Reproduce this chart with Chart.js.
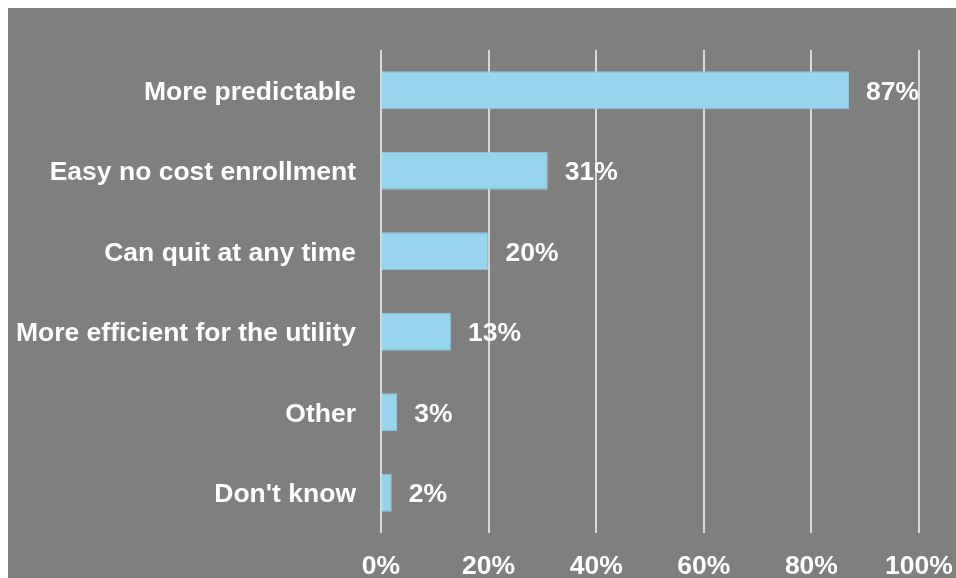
<!DOCTYPE html>
<html>
<head>
<meta charset="utf-8">
<script src="https://cdn.jsdelivr.net/npm/chart.js@4"></script>
<style>
	html, body { margin: 0; padding: 0; background: #fff; }
	.chart-box {
		position: absolute;
		left: 8px;
		top: 8px;
		width: 948px;
		height: 570px;
		background: #7f7f7f;
	}
</style>
</head>
<body>
<div class="chart-box">
	<canvas id="reasons-chart" width="948" height="570"></canvas>
</div>
<script>
"use strict";

const categories = [
	'More predictable',
	'Easy no cost enrollment',
	'Can quit at any time',
	'More efficient for the utility',
	'Other',
	"Don't know"
];
const shares = [87, 31, 20, 13, 3, 2];
const tickValues = [0, 20, 40, 60, 80, 100];

const fontFamily = '"Liberation Sans", Arial, Helvetica, sans-serif';
const labelFont = { family: fontFamily, size: 26.5, weight: 'bold' };

// value labels to the right of each bar
const barValueLabels = {
	id: 'barValueLabels',
	afterDatasetsDraw(chart) {
		const ctx = chart.ctx;
		const meta = chart.getDatasetMeta(0);
		ctx.save();
		ctx.fillStyle = '#ffffff';
		ctx.font = 'bold 26.5px ' + fontFamily;
		ctx.textAlign = 'left';
		ctx.textBaseline = 'middle';
		meta.data.forEach((bar, i) => {
			ctx.fillText(shares[i] + '%', bar.x + 17, bar.y + 2);
		});
		ctx.restore();
	}
};

function eventHandler() {
	const canvas = document.getElementById('reasons-chart');

	new Chart(canvas, {
		type: 'bar',
		data: {
			labels: categories,
			datasets: [{
				data: shares,
				backgroundColor: '#97d5ee',
				borderColor: '#8ccbe4',
				borderWidth: 1,
				barPercentage: 0.47,
				categoryPercentage: 1
			}]
		},
		options: {
			indexAxis: 'y',
			responsive: false,
			animation: false,
			layout: {
				padding: { top: 42, right: 37, left: 0, bottom: 0 }
			},
			plugins: {
				legend: { display: false },
				tooltip: { enabled: false }
			},
			scales: {
				x: {
					min: 0,
					max: 100,
					afterBuildTicks(scale) {
						scale.ticks = tickValues.map(v => ({ value: v }));
					},
					afterFit(scale) {
						scale.height = 45;
						scale.paddingLeft = 0;
						scale.paddingRight = 0;
					},
					grid: {
						color: '#d9d9d9',
						lineWidth: 2,
						drawTicks: false
					},
					border: { display: false },
					ticks: {
						color: '#ffffff',
						font: labelFont,
						padding: 18,
						callback: (v) => v + '%'
					}
				},
				y: {
					afterFit(scale) {
						scale.width = 373;
					},
					grid: { display: false, drawTicks: false },
					border: { display: false },
					ticks: {
						color: '#ffffff',
						font: labelFont,
						padding: 25,
						labelOffset: 2
					}
				}
			}
		},
		plugins: [barValueLabels]
	});
}

function start() {
	// make sure the bold face is ready before the canvas paints text
	document.fonts.load('bold 26px "Liberation Sans"').then(eventHandler, eventHandler);
}

if (document.readyState !== 'loading') {
	start();
} else {
	document.addEventListener('DOMContentLoaded', start);
}
</script>
</body>
</html>
